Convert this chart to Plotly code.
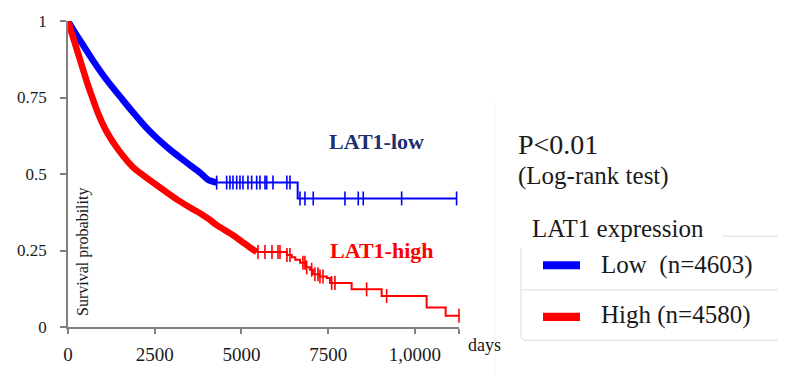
import numpy as np
import plotly.graph_objects as go

# ---------------- data ----------------
# dense early part (many events / censorings) : smooth
low_dense_days = [0, 150, 400, 700, 1000, 1300, 1530, 1893, 2300, 2600, 3000, 3300, 3573, 3850, 4054, 4300]
low_dense_surv = [1.0, 0.972, 0.927, 0.874, 0.825, 0.781, 0.749, 0.699, 0.646, 0.613, 0.574, 0.548, 0.524, 0.50, 0.48, 0.472]
# sparse late part : step
low_step_days = [4300, 6620, 11200]
low_step_surv = [0.472, 0.42, 0.42]
low_censor_days = [4285, 4573, 4669, 4755, 4862, 4957, 5043, 5187, 5294, 5438, 5533, 5677, 5726, 5908,
                   6308, 6398, 6686, 6830, 7069, 7983, 8366, 8510, 9617, 11200]

high_dense_days = [0, 260, 548, 700, 860, 1124, 1460, 1893, 2517, 3190, 3600, 3862, 4054, 4300, 4760, 5000, 5240, 5440]
high_dense_surv = [1.0, 0.905, 0.80, 0.75, 0.70, 0.636, 0.578, 0.52, 0.467, 0.413, 0.385, 0.368, 0.353, 0.332, 0.30, 0.28, 0.26, 0.245]
high_step_days = [5440, 6310, 6450, 6550, 6690, 6850, 6975, 7060, 7250, 7460, 7550, 8175, 9040, 10337, 10885, 11270]
high_step_surv = [0.245, 0.235, 0.228, 0.22, 0.21, 0.195, 0.187, 0.172, 0.165, 0.16, 0.144, 0.123, 0.101, 0.0634, 0.0366, 0.0366]
high_censor_days = [5475, 5677, 5879, 6052, 6110, 6311, 6398, 6772, 6830, 6879, 7023, 7118, 7205, 7262, 7349,
                    7599, 7695, 8608, 9184, 11270]

x_tickvals = [0, 2500, 5000, 7500, 10000, 11270]
x_ticktext = ["0", "2500", "5000", "7500", "1,0000", ""]
y_tickvals = [0, 0.25, 0.5, 0.75, 1]
y_ticktext = ["0", "0.25", "0.5", "0.75", "1"]

legend_title = "LAT1 expression"
group_names = ["Low  (n=4603)", "High (n=4580)"]
group_colors = ["#0000ff", "#ff0000"]
curve_labels = ["LAT1-low", "LAT1-high"]
p_text = "P<0.01"
test_text = "(Log-rank test)"

BLUE, RED = group_colors
FONT = "Liberation Serif"


def step_eval(days, sx, sy):
    sx = np.asarray(sx); sy = np.asarray(sy)
    idx = np.searchsorted(sx, days, side="right") - 1
    idx = np.clip(idx, 0, len(sy) - 1)
    return sy[idx]


fig = go.Figure()

for dd, ds, sd, ss, cd, col in [
    (low_dense_days, low_dense_surv, low_step_days, low_step_surv, low_censor_days, BLUE),
    (high_dense_days, high_dense_surv, high_step_days, high_step_surv, high_censor_days, RED),
]:
    fig.add_trace(go.Scatter(x=dd, y=ds, mode="lines", line=dict(color=col, width=6.5, shape="spline", smoothing=0.6),
                             showlegend=False, hoverinfo="skip", cliponaxis=False))
    fig.add_trace(go.Scatter(x=sd, y=ss, mode="lines", line=dict(color=col, width=2, shape="hv"),
                             showlegend=False, hoverinfo="skip", cliponaxis=False))
    cy = step_eval(cd, sd, ss)
    fig.add_trace(go.Scatter(x=cd, y=cy, mode="markers",
                             marker=dict(symbol="line-ns", size=10, line=dict(color=col, width=1.6)),
                             showlegend=False, hoverinfo="skip", cliponaxis=False))

# pixel helpers (plot area: x 68..459, y 18..328)
L, R, T, B = 68, 459, 18, 328
def px(x):
    return (x - L) / (R - L)
def py(y):
    return (B - y) / (B - T)

TXT = "#1a1a1a"
ann = []
ann.append(dict(x=px(466), y=py(346), text="days", xanchor="left", yanchor="middle",
                font=dict(family=FONT, size=18, color=TXT)))
ann.append(dict(x=px(83), y=py(252), text="Survival probability", textangle=-90, xanchor="center", yanchor="middle",
                font=dict(family=FONT, size=16, color=TXT)))
ann.append(dict(x=px(327), y=py(140), text="<b>%s</b>" % curve_labels[0], xanchor="left", yanchor="middle",
                font=dict(family=FONT, size=22, color="#1c2f6f")))
ann.append(dict(x=px(328), y=py(250), text="<b>%s</b>" % curve_labels[1], xanchor="left", yanchor="middle",
                font=dict(family=FONT, size=22, color=RED)))
ann.append(dict(x=px(516), y=py(143), text=p_text, xanchor="left", yanchor="middle",
                font=dict(family=FONT, size=28, color=TXT)))
ann.append(dict(x=px(516), y=py(175), text=test_text, xanchor="left", yanchor="middle",
                font=dict(family=FONT, size=25, color=TXT)))
ann.append(dict(x=px(530), y=py(228), text=legend_title, xanchor="left", yanchor="middle",
                font=dict(family=FONT, size=25, color=TXT)))
ann.append(dict(x=px(599), y=py(265), text=group_names[0], xanchor="left", yanchor="middle",
                font=dict(family=FONT, size=25, color=TXT)))
ann.append(dict(x=px(599), y=py(316), text=group_names[1], xanchor="left", yanchor="middle",
                font=dict(family=FONT, size=25, color=TXT)))
for a in ann:
    a.update(xref="paper", yref="paper", showarrow=False)

LINE = "#dcdcdc"
shapes = []
def pline(x0, y0, x1, y1, color=LINE, w=1):
    shapes.append(dict(type="line", xref="paper", yref="paper", x0=px(x0), y0=py(y0), x1=px(x1), y1=py(y1),
                       line=dict(color=color, width=w)))
pline(723, 236, 778, 236)
pline(521, 248, 521, 338)
pline(524, 341.5, 778, 341.5)
pline(521, 338, 524, 341.5)
pline(521, 290.5, 778, 290.5)
pline(495, 100, 495, 377, color="#f2f2f2")
for (y0, y1), col in zip([(261.5, 269.5), (313.5, 322)], group_colors):
    shapes.append(dict(type="rect", xref="paper", yref="paper", x0=px(543), x1=px(580), y0=py(y1), y1=py(y0),
                       fillcolor=col, line=dict(width=0)))

fig.update_layout(
    width=799, height=377,
    margin=dict(l=L, r=799 - R, t=T, b=377 - B),
    paper_bgcolor="white", plot_bgcolor="white",
    showlegend=False,
    annotations=ann, shapes=shapes,
    xaxis=dict(range=[0, 11270], tickvals=x_tickvals, ticktext=x_ticktext, showgrid=False, zeroline=False,
               showline=True, linecolor="#808080", linewidth=1.5, ticks="outside", ticklen=5, tickcolor="#808080",
               tickwidth=1.5, tickfont=dict(family=FONT, size=19, color=TXT), ticklabelstandoff=4),
    yaxis=dict(range=[0, 1], tickvals=y_tickvals, ticktext=y_ticktext, showgrid=False, zeroline=False,
               showline=True, linecolor="#808080", linewidth=1.5, ticks="outside", ticklen=6, tickcolor="#808080",
               tickwidth=1.5, tickfont=dict(family=FONT, size=17, color=TXT), ticklabelstandoff=10),
)

fig.write_html("out.html", config={"displayModeBar": False},
               post_script="document.body.style.margin='0';document.body.style.overflow='hidden';")
